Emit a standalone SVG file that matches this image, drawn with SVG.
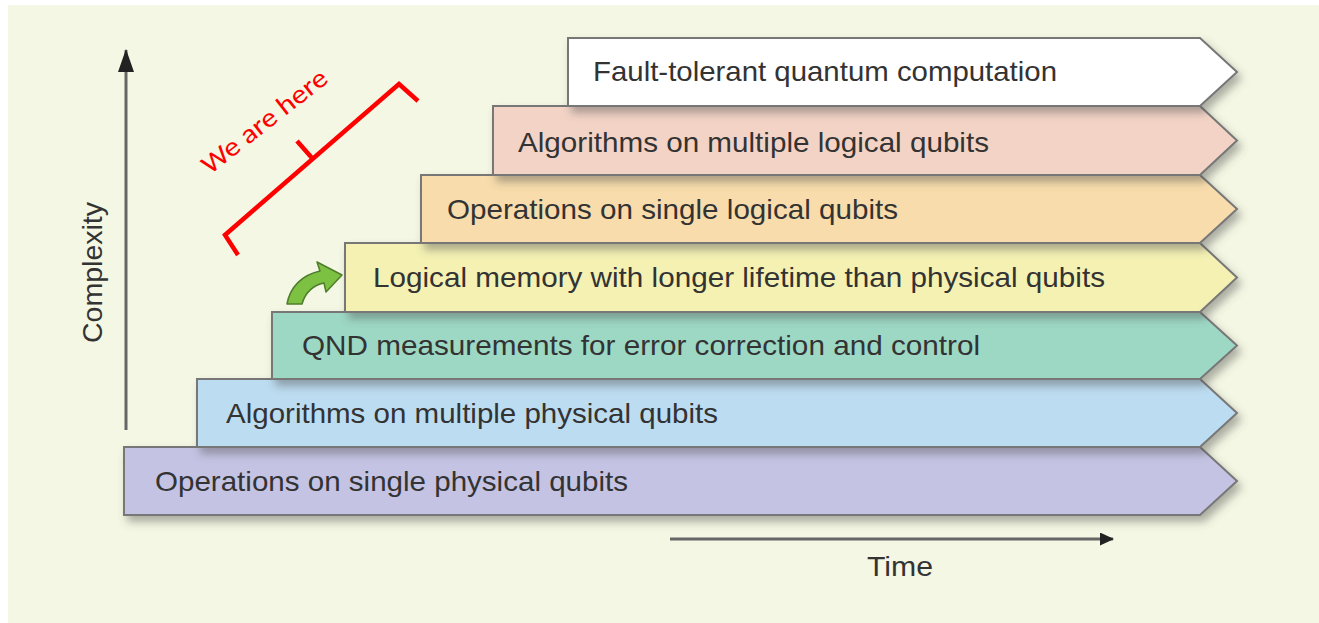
<svg xmlns="http://www.w3.org/2000/svg" width="1319" height="623" viewBox="0 0 1319 623">
<defs>
<filter id="sh" x="-5%" y="-20%" width="115%" height="160%">
<feDropShadow dx="4" dy="6" stdDeviation="4" flood-color="#555" flood-opacity="0.45"/>
</filter>
<marker id="ahv" viewBox="0 0 23 16" refX="22" refY="8" markerWidth="23" markerHeight="16" orient="auto" markerUnits="userSpaceOnUse">
<path d="M0,0 L23,8 L0,16 z" fill="#222"/>
</marker>
<marker id="ahh" viewBox="0 0 14 13" refX="13" refY="6.5" markerWidth="14" markerHeight="13" orient="auto" markerUnits="userSpaceOnUse">
<path d="M0,0 L14,6.5 L0,13 z" fill="#222"/>
</marker>
<style>
.bar{stroke:#777;stroke-width:2;filter:url(#sh)}
.lbl{font-family:"Liberation Sans",Arial,sans-serif;font-size:28px;fill:#333}
.axis{stroke:#666;stroke-width:3;fill:none}
</style>
</defs>
<rect x="8" y="5" width="1311" height="618" fill="#f4f7e3"/>
<g id="connectors">
<line class="axis" x1="126" y1="430" x2="126" y2="50" marker-end="url(#ahv)"/>
<line class="axis" x1="670" y1="539" x2="1113" y2="539" marker-end="url(#ahh)"/>
</g>
<g id="axis-labels">
<text class="lbl" transform="translate(102,343) rotate(-90)" textLength="141" lengthAdjust="spacingAndGlyphs">Complexity</text>
<text class="lbl" x="867" y="576" textLength="66" lengthAdjust="spacingAndGlyphs">Time</text>
</g>
<g id="n7"><path class="bar" d="M124,447 H1200 L1237,481 L1200,515 H124 Z" fill="#c4c3e3"/><text class="lbl" x="155" y="491" textLength="473" lengthAdjust="spacingAndGlyphs">Operations on single physical qubits</text></g>
<g id="n6"><path class="bar" d="M197,379 H1200 L1237,413 L1200,447 H197 Z" fill="#bcdcf1"/><text class="lbl" x="226" y="423" textLength="492" lengthAdjust="spacingAndGlyphs">Algorithms on multiple physical qubits</text></g>
<g id="n5"><path class="bar" d="M272,312 H1200 L1237,345.5 L1200,379 H272 Z" fill="#9dd8c5"/><text class="lbl" x="302" y="355" textLength="678" lengthAdjust="spacingAndGlyphs">QND measurements for error correction and control</text></g>
<g id="n4"><path class="bar" d="M345,243 H1200 L1237,277.5 L1200,312 H345 Z" fill="#f4f1b3"/><text class="lbl" x="373" y="287" textLength="732" lengthAdjust="spacingAndGlyphs">Logical memory with longer lifetime than physical qubits</text></g>
<g id="n3"><path class="bar" d="M421,175 H1200 L1237,209 L1200,243 H421 Z" fill="#f8dcab"/><text class="lbl" x="447" y="219" textLength="451" lengthAdjust="spacingAndGlyphs">Operations on single logical qubits</text></g>
<g id="n2"><path class="bar" d="M493,106 H1200 L1237,140.5 L1200,175 H493 Z" fill="#f3d3c6"/><text class="lbl" x="518" y="152" textLength="471" lengthAdjust="spacingAndGlyphs">Algorithms on multiple logical qubits</text></g>
<g id="n1"><path class="bar" d="M568,38 H1200 L1237,72 L1200,106 H568 Z" fill="#ffffff"/><text class="lbl" x="593" y="81" textLength="464" lengthAdjust="spacingAndGlyphs">Fault-tolerant quantum computation</text></g>
<g id="green-arrow">
<path d="M287,304 C290,287 302,275 320,271 L317,262 L342,275 L326,292 L324,283 C313,285 305,293 302,304 Z" fill="#7dc142" stroke="#4f7d2c" stroke-width="1.5" stroke-linejoin="round"/>
</g>
<g id="we-are-here">
<path d="M418,101 L399,84 L225,235 L238,255 M312,158 L297,141" fill="none" stroke="#ff0000" stroke-width="4.5" stroke-linejoin="miter"/>
<text x="210" y="175" transform="rotate(-38 210 175)" font-family="Carlito,'Liberation Sans',sans-serif" font-size="27" fill="#ff0000" textLength="152" lengthAdjust="spacingAndGlyphs">We are here</text>
</g>
</svg>
